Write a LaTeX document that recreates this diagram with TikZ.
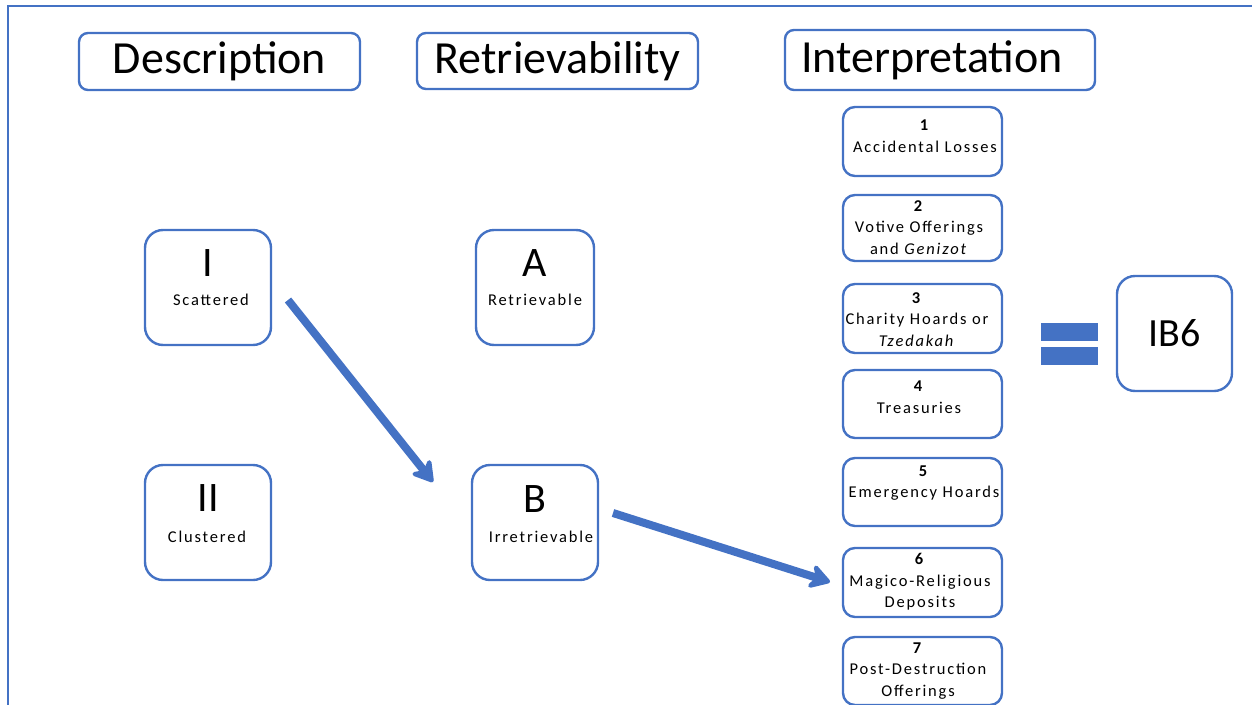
\documentclass[tikz,border=0pt]{standalone}
\usepackage{fontspec}
\setmainfont{Carlito}
\newfontfamily\lblfont[LetterSpace=11]{Carlito}
\usetikzlibrary{arrows.meta}
\definecolor{blu}{HTML}{4472C4}
\begin{document}
\begin{tikzpicture}[x=1pt,y=-1pt,
  boxline/.style={draw=blu, line width=2.4pt},
  hdr/.style={boxline, rounded corners=9pt, inner sep=0pt, font=\fontsize{46}{50}\selectfont},
  lbox/.style={boxline, rounded corners=18pt, minimum width=126pt, minimum height=115pt, inner sep=0pt},
  big/.style={font=\fontsize{42}{46}\selectfont, inner sep=0pt},
  small/.style={font=\lblfont\fontsize{16.5}{21.5}\selectfont, inner sep=0pt, align=center},
  nbox/.style={boxline, rounded corners=12pt, minimum width=159pt, minimum height=68pt, inner sep=0pt},
  arr/.style={draw=blu, line width=8pt, -{Stealth[length=25pt,width=30pt,inset=8pt,round]}}]
\useasboundingbox (0,0) rectangle (1252,704);
\draw[blu, line width=2.8pt] (8,710) -- (8,6) -- (1260,6);

% headers
\node[hdr, minimum width=281pt, minimum height=57pt] (desc) at (219.5,61.5) {Description};
\node[hdr, minimum width=281pt, minimum height=56pt] (retr) at (557.5,61) {Retrievability};
\node[hdr, minimum width=310pt, minimum height=60pt] (interp) at (940,60) {\hspace*{-16pt}Interpretation};

% description / retrievability boxes
\node[lbox] (I) at (208,287.5) {};
\node[big] (Il) at (208,263) {I};
\node[small] (Is) at (211,300) {Scattered};
\node[lbox] (II) at (208,522.5) {};
\node[big] (IIl) at (208,498) {II};
\node[small] (IIs) at (207,537) {Clustered};
\node[lbox, minimum width=118pt] (A) at (535,287.5) {};
\node[big] (Al) at (535,263) {A};
\node[small] (As) at (535,300) {Retrievable};
\node[lbox] (B) at (535,522.5) {};
\node[big] (Bl) at (535,499) {B};
\node[small] (Bs) at (541,537) {Irretrievable};

% interpretation boxes
\node[nbox, minimum height=69pt] (n1) at (922.5,141.5) {};
\node[small] (t1) at (925,136) {\textbf{1}\\Accidental Losses};
\node[nbox, minimum height=66pt] (n2) at (922.5,228) {};
\node[small] (t2) at (919,227.5) {\textbf{2}\\Votive Offerings\\and \textit{Genizot}};
\node[nbox, minimum height=69pt] (n3) at (922.5,318.5) {};
\node[small] (t3) at (917,319.5) {\textbf{3}\\Charity Hoards or\\\textit{Tzedakah}};
\node[nbox] (n4) at (922.5,404) {};
\node[small] (t4) at (919,397) {\textbf{4}\\Treasuries};
\node[nbox] (n5) at (922.5,492) {};
\node[small] (t5) at (924,483) {\textbf{5}\\Emergency Hoards};
\node[nbox, minimum height=69pt] (n6) at (922.5,582.5) {};
\node[small] (t6) at (920,582) {\textbf{6}\\Magico-Religious\\Deposits};
\node[nbox] (n7) at (922.5,671) {};
\node[small] (t7) at (918,671) {\textbf{7}\\Post-Destruction\\Offerings};

% equals and result
\fill[blu] (1041,323) rectangle (1098,341);
\fill[blu] (1041,347) rectangle (1098,365);
\node[boxline, rounded corners=18pt, minimum width=115pt, minimum height=115pt, inner sep=0pt, font=\fontsize{40}{44}\selectfont] (res) at (1174.5,333.5) {IB6};

% arrows
\coordinate (a1s) at (288,300);
\coordinate (a1e) at (433,482);
\coordinate (a2s) at (613,513);
\coordinate (a2e) at (830,582);
\draw[arr] (a1s) -- (a1e);
\draw[arr] (a2s) -- (a2e);
\end{tikzpicture}
\end{document}
